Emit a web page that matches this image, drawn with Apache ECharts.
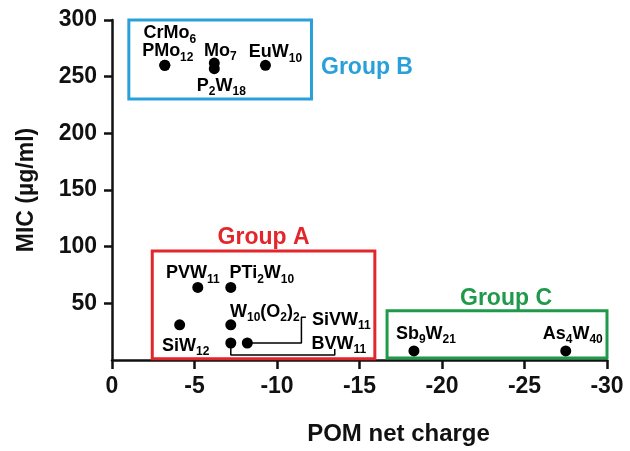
<!DOCTYPE html>
<html><head><meta charset="utf-8">
<script src="https://cdn.jsdelivr.net/npm/echarts@6/dist/echarts.min.js"></script>
<style>html,body{margin:0;padding:0;background:#fff}#c{width:630px;height:451px}</style>
</head><body><div id="c"></div>
<script>
// ---------- data ----------
const groupA_names  = ['PVW11', 'PTi2W10', 'SiW12', 'W10(O2)2', 'BVW11', 'SiVW11'];
const groupA_charge = [-5.2, -7.2, -4.1, -7.2, -7.2, -8.2];
const groupA_mic    = [64, 64, 31, 31, 15, 15];

const groupB_names  = ['CrMo6', 'PMo12', 'Mo7', 'P2W18', 'EuW10'];
const groupB_charge = [-3.2, -3.2, -6.2, -6.2, -9.3];
const groupB_mic    = [260, 260, 262, 257, 260];

const groupC_names  = ['Sb9W21', 'As4W40'];
const groupC_charge = [-18.3, -27.5];
const groupC_mic    = [8, 8];

const groupTitles = ['Group A', 'Group B', 'Group C'];
// group boxes in data units: [charge from, charge to], [mic from, mic to]
const boxA = [[-2.44, -15.93], [1.1, 96.1]];
const boxB = [[-1.02, -12.09], [230.4, 302.8]];
const boxC = [[-16.67, -30.15], [1.75, 43.5]];

// leader lines (data units)
const leaderSiVW11 = [[-8.2, 15], [-11.48, 15], [-11.48, 37.7], [-11.75, 37.7]];
const leaderBVW11  = [[-7.2, 15], [-7.2, 4.4], [-13.5, 4.4], [-13.5, 9.6]];

const xMin = -30, xMax = 0, xStep = 5;
const yMin = 0, yMax = 300, yStep = 50;

// ---------- styling ----------
const FONT = '"Liberation Sans", Arial, Helvetica, sans-serif';
const labelOffset = {
  'CrMo6': [5, -32], 'PMo12': [3, -14], 'Mo7': [6, -12], 'EuW10': [10, -13], 'P2W18': [7, 17],
  'PVW11': [-5, -14], 'PTi2W10': [31, -14], 'W10(O2)2': [34, -13], 'SiVW11': [94, -23],
  'SiW12': [6, 21], 'BVW11': [108, 1],
  'Sb9W21': [12, -17], 'As4W40': [7, -17]
};
const COL_A = '#e3262b', COL_B = '#2aa0da', COL_C = '#1f9a4b';

function richName(n) {
  const parts = n.match(/[0-9]+|[^0-9]+/g);
  return parts.map(p => /^[0-9]+$/.test(p) ? '{s|' + p + '}' : '{b|' + p + '}').join('');
}
const rich = {
  b: { fontFamily: FONT, fontWeight: 'bold', fontSize: 18, color: '#000', lineHeight: 18, verticalAlign: 'top' },
  s: { fontFamily: FONT, fontWeight: 'bold', fontSize: 12, color: '#000', lineHeight: 12, padding: [9, 0, 0, 0], verticalAlign: 'top' }
};

function pts(names, xs, ys) {
  return names.map((n, i) => ({
    name: n,
    value: [xs[i], ys[i]],
    label: { offset: labelOffset[n] }
  }));
}

function groupSeries(title, names, xs, ys, box, color, labelCfg) {
  return {
    type: 'scatter',
    name: title,
    clip: false,
    symbol: 'circle',
    symbolSize: 11,
    itemStyle: { color: '#000', opacity: 1 },
    z: 5,
    emphasis: { disabled: true },
    label: {
      show: true, position: 'inside', align: 'center', verticalAlign: 'middle', opacity: 1,
      formatter: p => richName(p.name), rich: rich
    },
    data: pts(names, xs, ys),
    markArea: {
      silent: true,
      itemStyle: { color: 'rgba(0,0,0,0)', borderColor: color, borderWidth: 3, opacity: 1 },
      label: Object.assign({
        show: true, color: color, fontFamily: FONT, fontWeight: 'bold', fontSize: 23
      }, labelCfg),
      data: [[
        { name: title, coord: [box[0][0], box[1][1]] },
        { coord: [box[0][1], box[1][0]] }
      ]]
    }
  };
}

function leader(data) {
  return {
    type: 'line', data: data, symbol: 'none', clip: false, z: 3, silent: true,
    lineStyle: { color: '#000', width: 1.5 }
  };
}

const chart = echarts.init(document.getElementById('c'), null, { renderer: 'canvas' });
chart.setOption({
  animation: false,
  backgroundColor: '#fff',
  grid: { left: 112, right: 23, top: 20, bottom: 88, containLabel: false },
  xAxis: {
    type: 'value', min: xMin, max: xMax, interval: xStep, inverse: true,
    name: 'POM net charge', nameLocation: 'middle', nameGap: 62,
    nameTextStyle: { fontFamily: FONT, fontWeight: 'bold', fontSize: 24, color: '#111', padding: [0, 0, 0, 78] },
    axisLine: { onZero: false, lineStyle: { color: '#111', width: 2.5 } },
    axisTick: { show: true, length: 9, lineStyle: { color: '#111', width: 2.5 } },
    axisLabel: { margin: 15, fontFamily: FONT, fontWeight: 'bold', fontSize: 23, color: '#111' },
    splitLine: { show: false }
  },
  yAxis: {
    type: 'value', min: yMin, max: yMax, interval: yStep,
    name: 'MIC (µg/ml)', nameLocation: 'middle', nameGap: 74,
    nameTextStyle: { fontFamily: FONT, fontWeight: 'bold', fontSize: 23, color: '#111' },
    axisLine: { lineStyle: { color: '#111', width: 2.5 } },
    axisTick: { show: true, length: 8, lineStyle: { color: '#111', width: 2.5 } },
    axisLabel: { margin: 15, showMinLabel: false, fontFamily: FONT, fontWeight: 'bold', fontSize: 23, color: '#111' },
    splitLine: { show: false }
  },
  series: [
    leader(leaderSiVW11),
    leader(leaderBVW11),
    groupSeries(groupTitles[0], groupA_names, groupA_charge, groupA_mic, boxA, COL_A, { position: 'top', distance: 4, offset: [0, 4] }),
    groupSeries(groupTitles[1], groupB_names, groupB_charge, groupB_mic, boxB, COL_B, { position: 'right', distance: 8, offset: [0, 8] }),
    groupSeries(groupTitles[2], groupC_names, groupC_charge, groupC_mic, boxC, COL_C, { position: 'top', distance: 4, offset: [9, 5] })
  ]
});
</script>
</body></html>
